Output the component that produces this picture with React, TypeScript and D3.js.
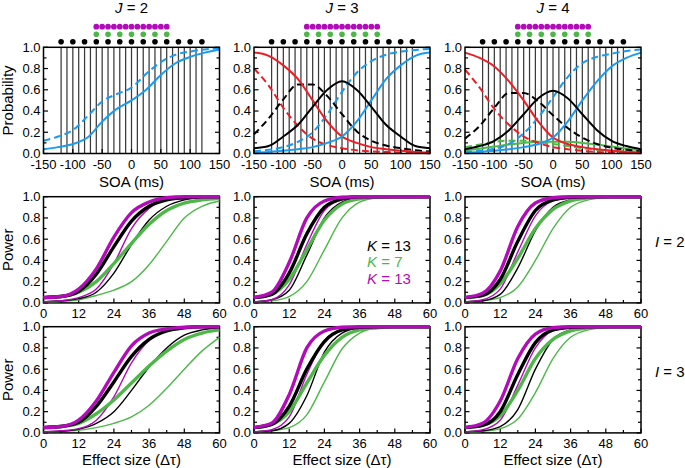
import React from "react";
import * as d3 from "d3";

// ---------- data ----------
const soaGrid = [-150, -125, -100, -75, -50, -25, 0, 25, 50, 75, 100, 125, 150];
const lineSOA = [-120, -110, -100, -90, -80, -70, -60, -50, -40, -30, -20, -10, 0, 10, 20, 30, 40, 50, 60, 70, 80, 90, 100, 110, 120];
const blackDotSOA = [-120, -100, -80, -60, -40, -20, 0, 20, 40, 60, 80, 100, 120];
const greenDotSOA = [-60, -40, -20, 0, 20, 40, 60];
const magentaDotSOA = [-60, -50, -40, -30, -20, -10, 0, 10, 20, 30, 40, 50, 60];

// J = 2
const blueSolidJ2 = [0.04, 0.06, 0.09, 0.15, 0.3, 0.42, 0.5, 0.6, 0.74, 0.85, 0.91, 0.95, 0.98];
const blueDashJ2 = [0.12, 0.16, 0.22, 0.35, 0.49, 0.56, 0.62, 0.75, 0.86, 0.93, 0.96, 0.98, 0.99];
// J = 3
const redSolidJ3 = [0.95, 0.92, 0.83, 0.7, 0.5, 0.3, 0.16, 0.1, 0.06, 0.04, 0.025, 0.015, 0.01];
const blackSolidJ3 = [0.05, 0.07, 0.16, 0.27, 0.44, 0.6, 0.68, 0.6, 0.44, 0.27, 0.16, 0.07, 0.05];
const blueSolidJ3 = [0.01, 0.015, 0.025, 0.04, 0.06, 0.1, 0.16, 0.3, 0.5, 0.7, 0.83, 0.92, 0.95];
const redDashJ3 = [0.8, 0.64, 0.43, 0.26, 0.14, 0.08, 0.05, 0.03, 0.02, 0.013, 0.008, 0.005, 0.003];
const blackDashJ3 = [0.18, 0.33, 0.51, 0.65, 0.65, 0.54, 0.37, 0.21, 0.12, 0.075, 0.05, 0.03, 0.02];
const blueDashJ3 = [0.02, 0.035, 0.06, 0.11, 0.2, 0.37, 0.58, 0.76, 0.87, 0.93, 0.96, 0.975, 0.985];
// J = 4
const redSolidJ4 = [0.95, 0.9, 0.82, 0.68, 0.5, 0.3, 0.15, 0.09, 0.06, 0.04, 0.025, 0.015, 0.01];
const blackSolidJ4 = [0.04, 0.07, 0.12, 0.22, 0.37, 0.52, 0.59, 0.52, 0.37, 0.22, 0.12, 0.07, 0.04];
const greenSolidJ4 = [0.03, 0.045, 0.065, 0.085, 0.1, 0.11, 0.11, 0.11, 0.1, 0.085, 0.065, 0.045, 0.03];
const blueSolidJ4 = [0.01, 0.015, 0.025, 0.04, 0.06, 0.09, 0.15, 0.3, 0.5, 0.68, 0.82, 0.9, 0.95];
const redDashJ4 = [0.79, 0.62, 0.42, 0.27, 0.16, 0.1, 0.06, 0.04, 0.025, 0.015, 0.01, 0.007, 0.005];
const blackDashJ4 = [0.14, 0.26, 0.43, 0.57, 0.57, 0.49, 0.36, 0.24, 0.15, 0.09, 0.055, 0.035, 0.02];
const greenDashJ4 = [0.06, 0.085, 0.11, 0.12, 0.12, 0.11, 0.09, 0.07, 0.05, 0.035, 0.025, 0.015, 0.01];
const blueDashJ4 = [0.015, 0.025, 0.045, 0.09, 0.19, 0.34, 0.53, 0.72, 0.85, 0.91, 0.94, 0.965, 0.98];

// Power curves, effect size grid
const effectGrid = [0, 6, 12, 18, 24, 30, 36, 42, 48, 54, 60];
// I = 2
const i2j2MagThick = [0.05, 0.06, 0.13, 0.32, 0.62, 0.85, 0.95, 0.99, 1, 1, 1];
const i2j2BlkThick = [0.05, 0.06, 0.11, 0.27, 0.53, 0.77, 0.91, 0.97, 0.99, 1, 1];
const i2j2GrnThick = [0.05, 0.06, 0.1, 0.2, 0.37, 0.56, 0.74, 0.87, 0.94, 0.97, 0.985];
const i2j2MagThin = [0.01, 0.02, 0.05, 0.13, 0.37, 0.7, 0.89, 0.97, 0.99, 1, 1];
const i2j2BlkThin = [0.01, 0.02, 0.04, 0.1, 0.28, 0.55, 0.78, 0.91, 0.97, 0.99, 1];
const i2j2GrnThin = [0.01, 0.015, 0.03, 0.07, 0.12, 0.2, 0.36, 0.58, 0.8, 0.91, 0.96];

const i2j3MagThick = [0.05, 0.1, 0.38, 0.8, 0.96, 0.995, 1, 1, 1, 1, 1];
const i2j3BlkThick = [0.05, 0.08, 0.28, 0.65, 0.9, 0.98, 1, 1, 1, 1, 1];
const i2j3GrnThick = [0.05, 0.08, 0.22, 0.5, 0.78, 0.93, 0.98, 0.995, 1, 1, 1];
const i2j3MagThin = [0.01, 0.03, 0.17, 0.55, 0.87, 0.97, 0.995, 1, 1, 1, 1];
const i2j3BlkThin = [0.01, 0.03, 0.12, 0.45, 0.8, 0.95, 0.99, 1, 1, 1, 1];
const i2j3GrnThin = [0.01, 0.02, 0.06, 0.2, 0.5, 0.8, 0.95, 0.99, 1, 1, 1];

const i2j4MagThick = [0.05, 0.09, 0.3, 0.72, 0.94, 0.99, 1, 1, 1, 1, 1];
const i2j4BlkThick = [0.05, 0.07, 0.22, 0.58, 0.87, 0.97, 0.995, 1, 1, 1, 1];
const i2j4GrnThick = [0.05, 0.07, 0.18, 0.42, 0.7, 0.88, 0.96, 0.99, 1, 1, 1];
const i2j4MagThin = [0.01, 0.03, 0.13, 0.48, 0.82, 0.96, 0.99, 1, 1, 1, 1];
const i2j4BlkThin = [0.01, 0.02, 0.08, 0.33, 0.68, 0.9, 0.97, 0.99, 1, 1, 1];
const i2j4GrnThin = [0.01, 0.02, 0.05, 0.15, 0.4, 0.7, 0.9, 0.97, 0.99, 1, 1];
// I = 3
const i3j2MagThick = [0.05, 0.06, 0.12, 0.3, 0.57, 0.82, 0.94, 0.98, 0.995, 1, 1];
const i3j2BlkThick = [0.05, 0.06, 0.1, 0.25, 0.48, 0.72, 0.88, 0.96, 0.99, 1, 1];
const i3j2GrnThick = [0.05, 0.06, 0.09, 0.18, 0.31, 0.47, 0.63, 0.77, 0.88, 0.94, 0.97];
const i3j2MagThin = [0.01, 0.02, 0.04, 0.12, 0.34, 0.66, 0.87, 0.96, 0.99, 1, 1];
const i3j2BlkThin = [0.01, 0.015, 0.035, 0.09, 0.2, 0.4, 0.62, 0.8, 0.92, 0.97, 0.99];
const i3j2GrnThin = [0.01, 0.015, 0.025, 0.05, 0.09, 0.15, 0.26, 0.42, 0.6, 0.77, 0.9];

const i3j3MagThick = [0.05, 0.09, 0.36, 0.8, 0.96, 0.995, 1, 1, 1, 1, 1];
const i3j3BlkThick = [0.05, 0.08, 0.25, 0.6, 0.86, 0.97, 0.995, 1, 1, 1, 1];
const i3j3GrnThick = [0.05, 0.08, 0.2, 0.47, 0.73, 0.9, 0.97, 0.99, 1, 1, 1];
const i3j3MagThin = [0.01, 0.03, 0.15, 0.55, 0.87, 0.97, 0.995, 1, 1, 1, 1];
const i3j3BlkThin = [0.01, 0.02, 0.09, 0.35, 0.76, 0.94, 0.99, 1, 1, 1, 1];
const i3j3GrnThin = [0.01, 0.02, 0.05, 0.17, 0.48, 0.79, 0.94, 0.99, 1, 1, 1];

const i3j4MagThick = [0.05, 0.09, 0.3, 0.7, 0.93, 0.99, 1, 1, 1, 1, 1];
const i3j4BlkThick = [0.05, 0.07, 0.2, 0.55, 0.85, 0.97, 0.995, 1, 1, 1, 1];
const i3j4GrnThick = [0.05, 0.07, 0.16, 0.4, 0.7, 0.88, 0.96, 0.99, 1, 1, 1];
const i3j4MagThin = [0.01, 0.03, 0.12, 0.45, 0.8, 0.96, 0.99, 1, 1, 1, 1];
const i3j4BlkThin = [0.01, 0.02, 0.06, 0.22, 0.6, 0.88, 0.97, 0.99, 1, 1, 1];
const i3j4GrnThin = [0.01, 0.015, 0.04, 0.13, 0.38, 0.7, 0.9, 0.97, 0.99, 1, 1];

const jLabels = ["2", "3", "4"];
const iLabels = ["2", "3"];
const probTicks = [0, 0.2, 0.4, 0.6, 0.8, 1.0];
const probMinorTicks = [0.1, 0.3, 0.5, 0.7, 0.9];
const soaTicks = [-150, -100, -50, 0, 50, 100, 150];
const effectTicks = [0, 12, 24, 36, 48, 60];
const effectMinorTicks = [6, 18, 30, 42, 54];
const legendK = ["13", "7", "13"];

// ---------- styling ----------
const W = 685;
const H = 468;
const FONT = "'Liberation Sans', Arial, Helvetica, sans-serif";
const BLUE = "#1a9bf0";
const RED = "#ee1c24";
const BLACK = "#000";
const GREEN = "#4db848";
const MAGENTA = "#b10cb8";
const colX = [43.5, 254, 465];
const PW = 176;
const rowY = [47.3, 196.7, 326.7];
const PH = 106.2;
const TICK_FS = 13;

type Series = { vals: number[]; color: string; dash?: boolean; width?: number };

function Frame({ x0, y0, xs, ys, xTicks, xMinor }: any) {
  const bottom = y0 + PH;
  return (
    <g>
      {probTicks.map((t) => (
        <g key={"y" + t}>
          <line x1={x0} x2={x0 + 4.5} y1={ys(t)} y2={ys(t)} stroke="#000" strokeWidth={1.2} />
          <line x1={x0 + PW} x2={x0 + PW - 4.5} y1={ys(t)} y2={ys(t)} stroke="#000" strokeWidth={1.2} />
          <text x={x0 - 3} y={ys(t)} dy="0.34em" textAnchor="end" fontSize={TICK_FS} fontFamily={FONT}>
            {t.toFixed(1)}
          </text>
        </g>
      ))}
      {probMinorTicks.map((t) => (
        <g key={"ym" + t}>
          <line x1={x0} x2={x0 + 3} y1={ys(t)} y2={ys(t)} stroke="#000" strokeWidth={1.2} />
          <line x1={x0 + PW} x2={x0 + PW - 3} y1={ys(t)} y2={ys(t)} stroke="#000" strokeWidth={1.2} />
        </g>
      ))}
      {xTicks.map((t: number) => (
        <g key={"x" + t}>
          <line x1={xs(t)} x2={xs(t)} y1={bottom} y2={bottom - 4.5} stroke="#000" strokeWidth={1.2} />
          <text x={xs(t)} y={bottom + 10.5} dy="0.36em" textAnchor="middle" fontSize={TICK_FS} fontFamily={FONT}>
            {t}
          </text>
        </g>
      ))}
      {xMinor.map((t: number) => (
        <line key={"xm" + t} x1={xs(t)} x2={xs(t)} y1={bottom} y2={bottom - 3} stroke="#000" strokeWidth={1.2} />
      ))}
      <rect x={x0} y={y0} width={PW} height={PH} fill="none" stroke="#000" strokeWidth={1.5} />
    </g>
  );
}

function ProbPanel({ col, series }: { col: number; series: Series[] }) {
  const x0 = colX[col];
  const y0 = rowY[0];
  const xs = d3.scaleLinear().domain([-150, 150]).range([x0, x0 + PW]);
  const ys = d3.scaleLinear().domain([0, 1]).range([y0 + PH, y0]);
  const line = d3
    .line<number>()
    .x((_, i) => xs(soaGrid[i]))
    .y((d) => ys(d))
    .curve(d3.curveMonotoneX);
  return (
    <g>
      {lineSOA.map((s) => (
        <line key={s} x1={xs(s)} x2={xs(s)} y1={y0} y2={y0 + PH} stroke="#3a3a3a" strokeWidth={1.25} />
      ))}
      {magentaDotSOA.map((s) => (
        <circle key={"m" + s} cx={xs(s)} cy={26.7} r={2.9} fill={MAGENTA} />
      ))}
      {greenDotSOA.map((s) => (
        <circle key={"g" + s} cx={xs(s)} cy={34.3} r={2.8} fill={GREEN} />
      ))}
      {blackDotSOA.map((s) => (
        <circle key={"b" + s} cx={xs(s)} cy={41.7} r={2.8} fill="#000" />
      ))}
      {series.map((s, i) => (
        <path
          key={i}
          d={line(s.vals) || ""}
          fill="none"
          stroke={s.color}
          strokeWidth={2}
          strokeDasharray={s.dash ? "7,4" : undefined}
        />
      ))}
      <Frame x0={x0} y0={y0} xs={xs} ys={ys} xTicks={soaTicks} xMinor={[]} />
      <text x={x0 + PW / 2} y={187} textAnchor="middle" fontSize={15} fontFamily={FONT}>
        SOA (ms)
      </text>
      <text x={x0 + PW / 2} y={13} textAnchor="middle" fontSize={15} fontFamily={FONT}>
        <tspan fontStyle="italic">J</tspan> = {jLabels[col]}
      </text>
    </g>
  );
}

function PowerPanel({ col, row, series }: { col: number; row: number; series: Series[] }) {
  const x0 = colX[col];
  const y0 = rowY[row];
  const xs = d3.scaleLinear().domain([0, 60]).range([x0, x0 + PW]);
  const ys = d3.scaleLinear().domain([0, 1]).range([y0 + PH, y0]);
  const line = d3
    .line<number>()
    .x((_, i) => xs(effectGrid[i]))
    .y((d) => ys(d))
    .curve(d3.curveMonotoneX);
  return (
    <g>
      <Frame x0={x0} y0={y0} xs={xs} ys={ys} xTicks={effectTicks} xMinor={effectMinorTicks} />
      {series.map((s, i) => (
        <path key={i} d={line(s.vals) || ""} fill="none" stroke={s.color} strokeWidth={s.width} strokeLinejoin="round" />
      ))}
      {row === 2 && (
        <text x={x0 + PW / 2} y={464.5} textAnchor="middle" fontSize={15} fontFamily={FONT}>
          Effect size (Δτ)
        </text>
      )}
    </g>
  );
}

function powerSeries(mt: number[], bt: number[], gt: number[], mn: number[], bn: number[], gn: number[]): Series[] {
  return [
    { vals: gn, color: GREEN, width: 1.4 },
    { vals: bn, color: BLACK, width: 1.4 },
    { vals: mn, color: MAGENTA, width: 1.4 },
    { vals: gt, color: GREEN, width: 3.4 },
    { vals: bt, color: BLACK, width: 3.4 },
    { vals: mt, color: MAGENTA, width: 3.4 },
  ];
}

export default function App() {
  const probPanels: Series[][] = [
    [
      { vals: blueDashJ2, color: BLUE, dash: true },
      { vals: blueSolidJ2, color: BLUE },
    ],
    [
      { vals: redDashJ3, color: RED, dash: true },
      { vals: blueDashJ3, color: BLUE, dash: true },
      { vals: blackDashJ3, color: BLACK, dash: true },
      { vals: redSolidJ3, color: RED },
      { vals: blueSolidJ3, color: BLUE },
      { vals: blackSolidJ3, color: BLACK },
    ],
    [
      { vals: greenDashJ4, color: GREEN, dash: true },
      { vals: greenSolidJ4, color: GREEN },
      { vals: redDashJ4, color: RED, dash: true },
      { vals: blueDashJ4, color: BLUE, dash: true },
      { vals: blackDashJ4, color: BLACK, dash: true },
      { vals: redSolidJ4, color: RED },
      { vals: blueSolidJ4, color: BLUE },
      { vals: blackSolidJ4, color: BLACK },
    ],
  ];
  const powerPanels: Series[][][] = [
    [
      powerSeries(i2j2MagThick, i2j2BlkThick, i2j2GrnThick, i2j2MagThin, i2j2BlkThin, i2j2GrnThin),
      powerSeries(i2j3MagThick, i2j3BlkThick, i2j3GrnThick, i2j3MagThin, i2j3BlkThin, i2j3GrnThin),
      powerSeries(i2j4MagThick, i2j4BlkThick, i2j4GrnThick, i2j4MagThin, i2j4BlkThin, i2j4GrnThin),
    ],
    [
      powerSeries(i3j2MagThick, i3j2BlkThick, i3j2GrnThick, i3j2MagThin, i3j2BlkThin, i3j2GrnThin),
      powerSeries(i3j3MagThick, i3j3BlkThick, i3j3GrnThick, i3j3MagThin, i3j3BlkThin, i3j3GrnThin),
      powerSeries(i3j4MagThick, i3j4BlkThick, i3j4GrnThick, i3j4MagThin, i3j4BlkThin, i3j4GrnThin),
    ],
  ];
  const legendColors = [BLACK, GREEN, MAGENTA];
  return (
    <svg
      width={W}
      height={H}
      viewBox={`0 0 ${W} ${H}`}
      style={{ position: "absolute", left: 0, top: 0, background: "#fff" }}
      fontFamily={FONT}
    >
      {probPanels.map((s, c) => (
        <ProbPanel key={c} col={c} series={s} />
      ))}
      {powerPanels.map((rowS, r) =>
        rowS.map((s, c) => <PowerPanel key={r + "-" + c} col={c} row={r + 1} series={s} />)
      )}
      <text transform={`translate(13,${rowY[0] + PH / 2}) rotate(-90)`} textAnchor="middle" fontSize={15}>
        Probability
      </text>
      {[1, 2].map((r) => (
        <text key={r} transform={`translate(13,${rowY[r] + PH / 2}) rotate(-90)`} textAnchor="middle" fontSize={15}>
          Power
        </text>
      ))}
      {iLabels.map((l, k) => (
        <text key={l + k} x={655} y={rowY[k + 1] + PH / 2 - 3} fontSize={15}>
          <tspan fontStyle="italic">I</tspan> = {l}
        </text>
      ))}
      {legendK.map((k, idx) => (
        <text key={idx} x={367} y={250.5 + idx * 16.5} fontSize={15} fill={legendColors[idx]}>
          <tspan fontStyle="italic">K</tspan> = {k}
        </text>
      ))}
    </svg>
  );
}
